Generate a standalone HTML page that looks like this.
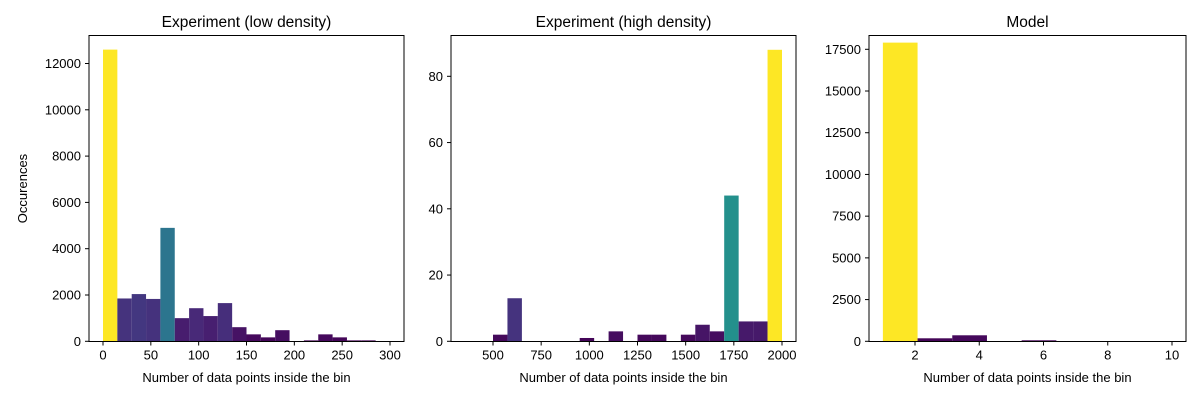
<!DOCTYPE html>
<html><head><meta charset="utf-8"><style>
html,body{margin:0;padding:0;background:#fff;}
svg{display:block;font-family:"Liberation Sans","DejaVu Sans",sans-serif;}
</style></head><body>
<svg id="chart" width="1200" height="400" viewBox="0 0 1200 400" xmlns="http://www.w3.org/2000/svg"></svg>
<script>
// Panel 1: low density
const lowBinStart = 0, lowBinWidth = 15;
const lowCounts = [12600,1850,2040,1830,4900,1000,1430,1090,1650,610,300,170,480,0,40,300,170,40,40,0];
const lowXTicks = [0,50,100,150,200,250,300];
const lowYTicks = [0,2000,4000,6000,8000,10000,12000];
// Panel 2: high density
const highBinStart = 500, highBinWidth = 75;
const highCounts = [2,13,0,0,0,0,1,0,3,0,2,2,0,2,5,3,44,6,6,88];
const highXTicks = [500,750,1000,1250,1500,1750,2000];
const highYTicks = [0,20,40,60,80];
// Panel 3: model
const modelBinStart = 1, modelBinWidth = 1.08;
const modelCounts = [17900,180,360,0,60,0,0,0,0];
const modelXTicks = [2,4,6,8,10];
const modelYTicks = [0,2500,5000,7500,10000,12500,15000,17500];

const svg = document.getElementById('chart');
const NS = 'http://www.w3.org/2000/svg';
function mk(tag, attrs, parent){const e=document.createElementNS(NS,tag);for(const k in attrs)e.setAttribute(k,attrs[k]);(parent||svg).appendChild(e);return e;}
const vir=[[68,1,84],[72,40,120],[62,73,137],[49,104,142],[38,130,142],[31,158,137],[53,183,121],[109,205,89],[180,222,44],[253,231,37]];
function viridis(t){t=Math.max(0,Math.min(1,t))*9;const i=Math.min(8,Math.floor(t)),f=t-i;const a=vir[i],b=vir[i+1];return 'rgb('+a.map((v,k)=>Math.round(v+(b[k]-v)*f)).join(',')+')';}

function panel(cfg){
  const {key,box,xRef,yRef,start,width,counts,xt,yt,title,ylabel}=cfg;
  const xs=v=>xRef[0][1]+(v-xRef[0][0])*(xRef[1][1]-xRef[0][1])/(xRef[1][0]-xRef[0][0]);
  const ys=v=>yRef[0][1]+(v-yRef[0][0])*(yRef[1][1]-yRef[0][1])/(yRef[1][0]-yRef[0][0]);
  const g=mk('g',{});
  
  
  const mx=Math.max(...counts);
  counts.forEach((c,i)=>{
    if(c<=0)return;
    const x0=xs(start+i*width),x1=xs(start+(i+1)*width),y=ys(c),y0=ys(0);
    const r=mk('rect',{x:x0,y:y,width:x1-x0,height:y0-y,fill:viridis(c/mx)},g);
    
    
  });
  const fr=mk('rect',{x:box[0],y:box[1],width:box[2]-box[0],height:box[3]-box[1],fill:'none',stroke:'#000','stroke-width':1},g);
  
  
  xt.forEach(v=>{const x=xs(v);mk('line',{x1:x,x2:x,y1:box[3],y2:box[3]+4,stroke:'#000'},g);
    const t=mk('text',{x:x,y:box[3]+18,'text-anchor':'middle','font-size':13,fill:'#000'},g);t.textContent=v;
    
    });
  yt.forEach(v=>{const y=ys(v);mk('line',{x1:box[0]-4,x2:box[0],y1:y,y2:y,stroke:'#000'},g);
    const t=mk('text',{x:box[0]-8,y:y+4.5,'text-anchor':'end','font-size':13,fill:'#000'},g);t.textContent=v;
    
    });
  const tt=mk('text',{x:(box[0]+box[2])/2,y:27,'text-anchor':'middle','font-size':15.5,fill:'#000'},g);tt.textContent=title;
  
  
  const xl=mk('text',{x:(box[0]+box[2])/2,y:382,'text-anchor':'middle','font-size':13,fill:'#000'},g);xl.textContent='Number of data points inside the bin';
  
  
  if(ylabel){const yl=mk('text',{x:27,y:(box[1]+box[3])/2,'text-anchor':'middle','font-size':13,fill:'#000',transform:'rotate(-90 27 '+((box[1]+box[3])/2)+')'},g);yl.textContent=ylabel;
    
    }
}
panel({key:'low-density',box:[89,35.5,404,341.5],xRef:[[0,103],[300,390]],yRef:[[0,341.3],[12000,63.5]],start:lowBinStart,width:lowBinWidth,counts:lowCounts,xt:lowXTicks,yt:lowYTicks,title:'Experiment (low density)',ylabel:'Occurences'});
panel({key:'high-density',box:[451,35.5,796,341.5],xRef:[[500,493],[2000,782]],yRef:[[0,341.3],[80,76.3]],start:highBinStart,width:highBinWidth,counts:highCounts,xt:highXTicks,yt:highYTicks,title:'Experiment (high density)'});
panel({key:'model',box:[869,35.5,1186,341.5],xRef:[[2,915],[10,1172]],yRef:[[0,341.3],[17500,49.3]],start:modelBinStart,width:modelBinWidth,counts:modelCounts,xt:modelXTicks,yt:modelYTicks,title:'Model'});
</script>
</body></html>
